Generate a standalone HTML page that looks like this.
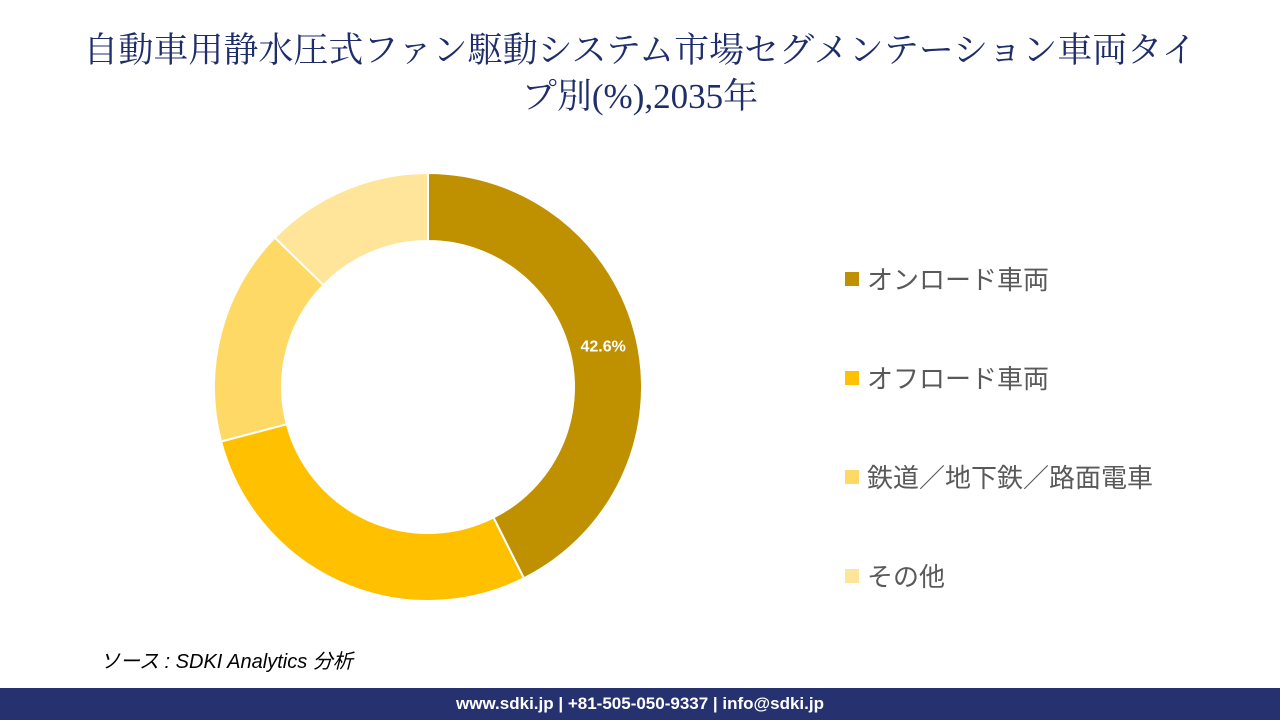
<!DOCTYPE html>
<html><head><meta charset="utf-8"><style>
body{margin:0;width:1280px;height:720px;background:#fff;position:relative;overflow:hidden;font-family:"Liberation Sans","Noto Sans CJK JP",sans-serif}
#title{position:absolute;top:28px;left:0;width:1280px;text-align:center;font-family:"Liberation Serif","Noto Serif CJK SC",serif;font-size:35px;line-height:46px;color:#1f2d6b}
.leg{position:absolute;left:845px;font-size:26px;color:#595959;display:flex;align-items:center}
.leg span.sw{display:inline-block;width:14px;height:14px;margin-right:8px}
#src{position:absolute;left:100px;top:645px;font-size:20px;font-style:italic;color:#000}
#footer{position:absolute;left:0;top:688px;width:1280px;height:32px;background:#263270;color:#fff;font-weight:bold;font-size:17px;text-align:center;line-height:32px}
</style></head><body>
<div id="title">自動車用静水圧式ファン駆動システム市場セグメンテーション車両タイ<br>プ別(%),2035年</div>
<svg id="chart" width="1280" height="720" style="position:absolute;left:0;top:0"></svg>
<div class="leg" style="top:260px"><span class="sw" style="background:#BF9000"></span>オンロード車両</div>
<div class="leg" style="top:359px"><span class="sw" style="background:#FFC000"></span>オフロード車両</div>
<div class="leg" style="top:458px"><span class="sw" style="background:#FFD966"></span>鉄道／地下鉄／路面電車</div>
<div class="leg" style="top:557px"><span class="sw" style="background:#FFE599"></span>その他</div>
<div id="src">ソース : SDKI Analytics 分析</div>
<div id="footer">www.sdki.jp | +81-505-050-9337 | info@sdki.jp</div>
<script>
const categories=["オンロード車両","オフロード車両","鉄道／地下鉄／路面電車","その他"];
const values=[42.6,28.3,16.4,12.7];
const labels=["42.6%","","",""];
const colors=["#BF9000","#FFC000","#FFD966","#FFE599"];
const svg=document.getElementById('chart');
const cx=428,cy=387,R=214,r=146;
const total=values.reduce((a,b)=>a+b,0);
function pt(a,rad){return [cx+rad*Math.sin(a),cy-rad*Math.cos(a)];}
let a0=0;
values.forEach((v,i)=>{
  const a1=a0+v/total*2*Math.PI;
  const large=(a1-a0)>Math.PI?1:0;
  const [x0,y0]=pt(a0,R),[x1,y1]=pt(a1,R),[x2,y2]=pt(a1,r),[x3,y3]=pt(a0,r);
  const p=document.createElementNS('http://www.w3.org/2000/svg','path');
  p.setAttribute('d',`M${x0},${y0}A${R},${R} 0 ${large} 1 ${x1},${y1}L${x2},${y2}A${r},${r} 0 ${large} 0 ${x3},${y3}Z`);
  p.setAttribute('fill',colors[i]);p.setAttribute('stroke','#fff');p.setAttribute('stroke-width','2');
  
  
  svg.appendChild(p);
  if(labels[i]){
    const [lx,ly]=pt((a0+a1)/2,(R+r)/2);
    const t=document.createElementNS('http://www.w3.org/2000/svg','text');
    t.setAttribute('x',lx);t.setAttribute('y',ly+6);t.setAttribute('text-anchor','middle');
    t.setAttribute('fill','#fff');t.setAttribute('font-size','16');t.setAttribute('font-weight','bold');
    t.setAttribute('font-family','Liberation Sans, sans-serif');
    t.textContent=labels[i];
    
    
    svg.appendChild(t);
  }
  a0=a1;
});
</script>
</body></html>
